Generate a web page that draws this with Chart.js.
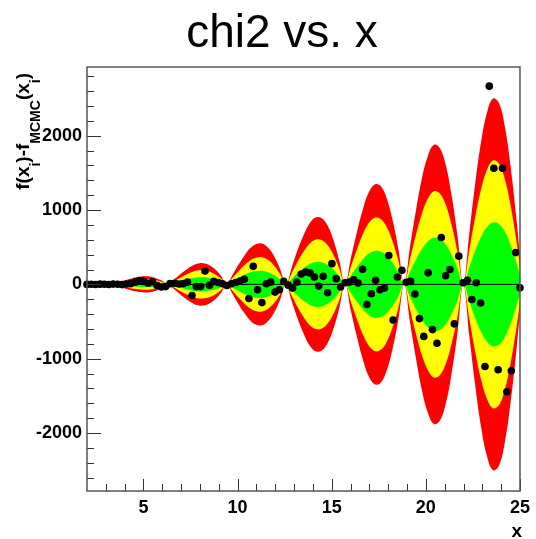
<!DOCTYPE html>
<html>
<head>
<meta charset="utf-8">
<script src="https://cdn.jsdelivr.net/npm/chart.js@4.4.0/dist/chart.umd.min.js"></script>
<style>
  body { margin: 0; background: #fff; }
  canvas { display: block; }
</style>
</head>
<body>
<canvas id="chi2Chart" width="536" height="539"></canvas>
<script>
// residuals f(x_i) - f_MCMC(x_i)
const pointX = [2.00, 2.23, 2.46, 2.70, 2.93, 3.16, 3.39, 3.63, 3.86, 4.09,
    4.32, 4.56, 4.79, 5.02, 5.25, 5.48, 5.72, 5.95, 6.18, 6.41,
    6.65, 6.88, 7.11, 7.34, 7.58, 7.81, 8.04, 8.27, 8.51, 8.74,
    8.97, 9.20, 9.43, 9.67, 9.90, 10.13, 10.36, 10.60, 10.83, 11.06,
    11.29, 11.53, 11.76, 11.99, 12.22, 12.45, 12.69, 12.92, 13.15, 13.38,
    13.62, 13.85, 14.08, 14.31, 14.55, 14.78, 15.01, 15.24, 15.47, 15.71,
    15.94, 16.17, 16.40, 16.64, 16.87, 17.10, 17.33, 17.56, 17.80, 18.03,
    18.26, 18.49, 18.73, 18.96, 19.19, 19.42, 19.66, 19.89, 20.12, 20.35,
    20.59, 20.82, 21.05, 21.28, 21.51, 21.75, 21.98, 22.21, 22.44, 22.68,
    22.91, 23.14, 23.37, 23.61, 23.84, 24.07, 24.30, 24.54, 24.77, 25.00];
const pointY = [0, 2, -1, 3, 1, -2, 4, 2, -3, 5,
    10, 30, 50, 40, 15, 35, -15, -35, -30, 10,
    15, 5, 10, 31, -149, -30, -30, 180, -10, 40,
    25, 9, -14, 9, 25, 45, 70, -190, 243, -72,
    -245, 9, 31, -104, -72, 40, -10, -50, 31, 140,
    166, 153, 99, -23, 108, -113, 279, 77, -36, 23,
    31, 63, 18, 203, -270, -126, 54, -72, -50, 388,
    -480, 99, 189, 28, 40, -130, -460, -700, 155, -608,
    -793, 631, 117, 200, -531, 380, 23, 55, -203, 23,
    -250, -1104, 2667, 1563, -1149, 1563, -1444, -1162, 428, -45];

// 1 sigma half width of the MCMC band (green = 1, yellow = 2, red = 3 sigma)
const bandX = [2.00, 2.20, 2.51, 2.83, 3.14,
    3.46, 3.77, 4.08, 4.40, 4.71, 5.03, 5.34, 5.65, 5.97, 6.28,
    6.60, 6.91, 7.23, 7.54, 7.85, 8.17, 8.48, 8.80, 9.11, 9.42,
    9.74, 10.05, 10.37, 10.68, 11.00, 11.31, 11.62, 11.94, 12.25, 12.57,
    12.88, 13.19, 13.51, 13.82, 14.14, 14.45, 14.77, 15.08, 15.39, 15.71,
    16.02, 16.34, 16.65, 16.96, 17.28, 17.59, 17.91, 18.22, 18.54, 18.85,
    19.16, 19.48, 19.79, 20.11, 20.42, 20.73, 21.05, 21.36, 21.68, 21.99,
    22.31, 22.62, 22.93, 23.25, 23.56, 23.88, 24.19, 24.50, 24.82, 25.00];
const bandSigma = [5, 6, 6, 4, 0,
    6, 13, 20, 28, 33, 36, 35, 28, 17, 0,
    20, 42, 63, 81, 93, 95, 87, 68, 39, 0,
    44, 89, 130, 163, 181, 183, 164, 126, 70, 0,
    77, 154, 221, 273, 300, 298, 265, 201, 110, 0,
    119, 235, 336, 411, 448, 442, 389, 293, 159, 0,
    170, 335, 475, 577, 626, 613, 538, 403, 218, 0,
    231, 451, 638, 771, 833, 813, 710, 530, 286, 124];

const xMajorTicks = [5, 10, 15, 20, 25];
const xMinorTicks = [3, 4, 6, 7, 8, 9, 11, 12, 13, 14, 16, 17, 18, 19, 21, 22, 23, 24];
const yMajorTicks = [-2000, -1000, 0, 1000, 2000];
const yMinorTicks = [-2600, -2400, -2200, -1800, -1600, -1400, -1200, -800, -600, -400, -200,
    200, 400, 600, 800, 1200, 1400, 1600, 1800, 2200, 2400, 2600, 2800];

const FONT = 'Liberation Sans, Arial, Helvetica, sans-serif';

function bandLine(k) {
    return bandX.map((x, i) => ({ x: x, y: k * bandSigma[i] }));
}

function bandSet(k, color, fill) {
    return {
        data: bandLine(k),
        backgroundColor: color,
        borderWidth: 0,
        pointRadius: 0,
        tension: 0.4,
        fill: fill
    };
}

// frame, inward ticks, title and axis titles
const rootStyle = {
    id: 'rootStyle',
    afterDatasetsDraw(chart) {
        const ctx = chart.ctx;
        const a = chart.chartArea;
        const xs = chart.scales.x, ys = chart.scales.y;
        ctx.save();
        ctx.strokeStyle = '#333';
        ctx.lineWidth = 1;
        ctx.beginPath();
        xMajorTicks.forEach(v => {
            const px = Math.round(xs.getPixelForValue(v)) + 0.5;
            ctx.moveTo(px, a.bottom); ctx.lineTo(px, a.bottom - 12);
        });
        xMinorTicks.forEach(v => {
            const px = Math.round(xs.getPixelForValue(v)) + 0.5;
            ctx.moveTo(px, a.bottom); ctx.lineTo(px, a.bottom - 7);
        });
        yMajorTicks.forEach(v => {
            const py = Math.round(ys.getPixelForValue(v)) + 0.5;
            ctx.moveTo(a.left, py); ctx.lineTo(a.left + 14, py);
        });
        yMinorTicks.forEach(v => {
            const py = Math.round(ys.getPixelForValue(v)) + 0.5;
            ctx.moveTo(a.left, py); ctx.lineTo(a.left + 7, py);
        });
        ctx.stroke();
        ctx.strokeStyle = '#555';
        ctx.lineWidth = 1.5;
        ctx.strokeRect(a.left, a.top, a.right - a.left, a.bottom - a.top);
        ctx.restore();
    },
    afterDraw(chart) {
        const ctx = chart.ctx;
        ctx.save();
        ctx.fillStyle = '#000';
        ctx.font = '46px ' + FONT;
        ctx.textAlign = 'center';
        ctx.textBaseline = 'alphabetic';
        ctx.fillText('chi2 vs. x', 282, 47);

        ctx.font = 'bold 19px ' + FONT;
        ctx.textAlign = 'right';
        ctx.fillText('x', 522, 537);

        // y title with subscripts, rotated
        const parts = [['f(x', 0], ['i', 1], [')-f', 0], ['MCMC', 1], ['(x', 0], ['i', 1], [')', 0]];
        const mainFont = 'bold 19px ' + FONT, subFont = 'bold 14px ' + FONT;
        let total = 0;
        parts.forEach(p => { ctx.font = p[1] ? subFont : mainFont; total += ctx.measureText(p[0]).width; });
        ctx.translate(29, 73);
        ctx.rotate(-Math.PI / 2);
        ctx.textAlign = 'left';
        let pos = -total;
        parts.forEach(p => {
            ctx.font = p[1] ? subFont : mainFont;
            ctx.fillText(p[0], pos, p[1] ? 11 : 0);
            pos += ctx.measureText(p[0]).width;
        });
        ctx.restore();
    }
};

const points = pointX.map((x, i) => ({ x: x, y: pointY[i] }));

new Chart(document.getElementById('chi2Chart'), {
    type: 'line',
    data: {
        datasets: [
            {
                data: points,
                showLine: false,
                pointRadius: 3.8,
                pointBorderWidth: 0,
                pointBackgroundColor: '#000',
                clip: false
            },
            {
                data: [{ x: 2, y: 0 }, { x: 25, y: 0 }],
                borderColor: '#000',
                borderWidth: 1,
                pointRadius: 0
            },
            bandSet(1, '#00ff00', '+1'),
            bandSet(-1, '#00ff00', false),
            bandSet(2, '#ffff00', '+1'),
            bandSet(-2, '#ffff00', false),
            bandSet(3, '#ff0000', '+1'),
            bandSet(-3, '#ff0000', false)
        ]
    },
    options: {
        responsive: false,
        animation: false,
        devicePixelRatio: 1,
        layout: { padding: { left: 0, top: 67, right: 13, bottom: 0 } },
        plugins: {
            legend: { display: false },
            tooltip: { enabled: false },
            title: { display: false }
        },
        scales: {
            x: {
                type: 'linear',
                min: 2,
                max: 25,
                afterBuildTicks: s => { s.ticks = xMajorTicks.map(v => ({ value: v })); },
                afterFit: s => { s.height = 48; },
                grid: { display: false, drawTicks: false },
                border: { display: false },
                ticks: {
                    padding: 6,
                    color: '#000',
                    maxRotation: 0,
                    callback: v => String(v),
                    font: { family: FONT, size: 18, weight: 'bold' }
                }
            },
            y: {
                type: 'linear',
                min: -2780,
                max: 2925,
                afterBuildTicks: s => { s.ticks = yMajorTicks.map(v => ({ value: v })); },
                afterFit: s => { s.width = 87; },
                grid: { display: false, drawTicks: false },
                border: { display: false },
                ticks: {
                    padding: 5,
                    color: '#000',
                    callback: v => String(v),
                    font: { family: FONT, size: 18, weight: 'bold' }
                }
            }
        }
    },
    plugins: [rootStyle]
});
</script>
</body>
</html>
